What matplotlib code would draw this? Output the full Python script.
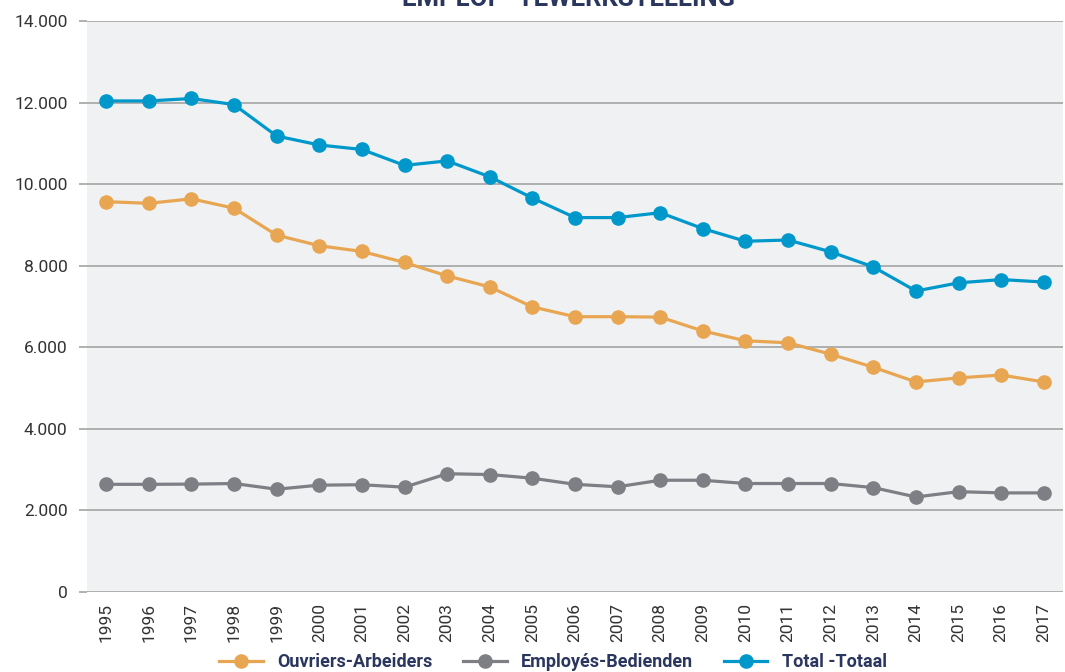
import matplotlib
matplotlib.use("Agg")
import matplotlib.pyplot as plt
from matplotlib.ticker import FuncFormatter

years = [str(y) for y in range(1995, 2018)]
ouvriers = [9570, 9530, 9640, 9410, 8750, 8490, 8350, 8080, 7750, 7480, 6990,
            6750, 6750, 6740, 6400, 6160, 6110, 5830, 5510, 5150, 5250, 5320, 5150]
employes = [2640, 2640, 2645, 2660, 2520, 2620, 2630, 2570, 2900, 2880, 2790,
            2640, 2580, 2740, 2740, 2660, 2660, 2660, 2560, 2330, 2460, 2430, 2430]
total = [12040, 12040, 12100, 11950, 11180, 10960, 10850, 10460, 10570, 10180, 9660,
         9180, 9180, 9300, 8910, 8600, 8630, 8340, 7970, 7380, 7580, 7660, 7600]
yticks = [0, 2000, 4000, 6000, 8000, 10000, 12000, 14000]
labels = ["Ouvriers-Arbeiders", "Employés-Bedienden", "Total -Totaal"]
title = "EMPLOI - TEWERKSTELLING"

c_orange = "#E8A652"
c_gray = "#7E7F84"
c_blue = "#0098CB"
navy = "#2B365F"

plt.rcParams['font.family'] = ['Roboto', 'DejaVu Sans']

fig = plt.figure(figsize=(10.65, 6.72), dpi=100)
ax = fig.add_axes([87/1065, (672-592)/672, (1063-87)/1065, (592-21)/672])
ax.set_facecolor("#F0F1F3")

x = list(range(len(years)))
for vals, col, lab in [(ouvriers, c_orange, labels[0]), (employes, c_gray, labels[1]), (total, c_blue, labels[2])]:
    ax.plot(x, vals, color=col, lw=2.3, marker='o', ms=9.5, label=lab, zorder=3)

ax.set_xlim(-0.45, len(years) - 0.55)
ax.set_ylim(0, 14000)
ax.set_yticks(yticks)
ax.yaxis.set_major_formatter(FuncFormatter(lambda v, p: f"{int(v):,}".replace(",", ".")))
ax.grid(axis='y', color="#A3A3A3", lw=1.2, zorder=1)
ax.set_axisbelow(True)
for s in ax.spines.values():
    s.set_visible(False)
ax.tick_params(axis='y', length=6, color="#A3A3A3", width=1.2, labelsize=12.5, labelcolor="#333333", pad=8)
ax.set_xticks(x)
ax.set_xticklabels(years, rotation=90, fontsize=12.5, color="#333333")
ax.tick_params(axis='x', length=0, pad=8)

fig.text(568/1065, 1 - 6/672, title, ha='center', va='baseline', fontsize=18.5,
         fontweight='bold', color=navy)

leg = fig.legend(loc='center', bbox_to_anchor=(553/1065, 1 - 662/672), ncol=3, frameon=False,
                 prop={'weight': 'bold', 'size': 13}, handlelength=2.4, columnspacing=1.7,
                 handletextpad=0.8)
for t in leg.get_texts():
    t.set_color(navy)

fig.savefig("out.png", dpi=100)
